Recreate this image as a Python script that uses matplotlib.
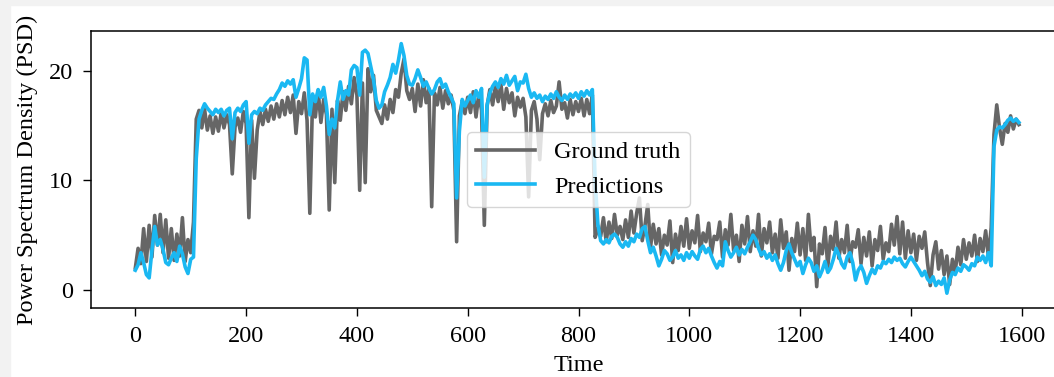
import matplotlib
matplotlib.use("Agg")
import matplotlib.pyplot as plt
from matplotlib.patches import Rectangle
import numpy as np

plt.rcParams["font.family"] = ["Liberation Serif", "DejaVu Serif"]
plt.rcParams["font.size"] = 17.5

# Sample index (every 5th step of the test window)
time = np.arange(0, 1600, 5)

ground_truth = [
    2.0, 3.8, 2.4, 5.6, 2.6, 5.9, 3.0, 6.8, 4.1, 6.9, 3.4, 6.4, 2.9, 5.6, 2.7, 5.1, 3.1, 6.6, 2.6, 4.6,
    3.4, 6.2, 15.6, 16.4, 14.8, 16.5, 14.6, 15.9, 14.3, 15.8, 14.5, 16.2, 14.8, 16.0, 15.1, 10.6, 14.9, 15.7, 14.4, 16.3,
    15.2, 6.6, 15.5, 10.2, 14.6, 16.3, 15.1, 16.5, 15.4, 16.8, 15.6, 17.0, 15.8, 17.3, 16.0, 17.6, 16.2, 17.8, 14.3, 17.2,
    16.1, 18.0, 15.5, 7.0, 17.6, 15.8, 18.2, 15.3, 17.4, 16.0, 7.3, 16.5, 9.8, 17.3, 15.5, 18.1, 16.4, 18.6, 17.0, 19.4,
    17.8, 9.1, 18.9, 9.8, 20.2, 18.1, 19.6, 16.4, 15.8, 15.2, 16.9, 15.6, 17.4, 16.2, 18.3, 17.6, 19.8, 21.1, 18.2, 17.4,
    18.4, 16.3, 18.8, 16.8, 19.2, 17.1, 18.4, 7.6, 18.0, 16.9, 18.5, 16.6, 18.2, 17.0, 17.8, 16.4, 4.4, 15.9, 17.2, 16.1,
    17.6, 16.2, 18.1, 15.8, 17.9, 16.4, 5.9, 16.8, 18.3, 16.9, 18.6, 17.2, 18.8, 16.5, 18.4, 17.1, 18.0, 15.9, 17.6, 16.7,
    17.5, 15.8, 8.5, 16.4, 17.2, 15.6, 11.9, 16.1, 17.0, 15.9, 17.3, 16.2, 16.8, 19.0, 16.5, 17.1, 15.7, 17.4, 16.0, 17.2,
    16.3, 17.5, 15.9, 17.4, 16.1, 17.8, 4.8, 5.6, 4.9, 6.6, 4.4, 6.2, 4.7, 6.9, 5.0, 5.8, 4.6, 6.4, 4.8, 7.2,
    5.2, 7.0, 8.4, 4.5, 5.9, 7.8, 3.9, 6.0, 4.2, 5.6, 3.2, 5.0, 4.1, 6.3, 2.5, 5.1, 3.6, 5.8, 4.0, 6.5,
    3.8, 5.4, 4.3, 6.8, 3.5, 5.2, 4.4, 6.1, 3.3, 4.9, 4.6, 6.2, 3.0, 5.5, 4.1, 6.9, 3.6, 5.0, 2.6, 5.9,
    4.2, 6.7, 3.5, 5.4, 4.0, 6.9, 3.1, 5.6, 4.3, 6.2, 3.4, 5.1, 2.9, 6.4, 3.8, 5.3, 1.8, 4.7, 3.5, 6.1,
    3.2, 5.6, 2.7, 6.9, 3.6, 4.8, 0.3, 4.2, 3.3, 5.7, 2.1, 4.9, 3.7, 6.2, 2.9, 4.6, 3.4, 5.9, 2.6, 4.4,
    3.9, 5.5, 2.4, 4.8, 3.1, 5.3, 2.2, 4.6, 3.6, 5.8, 2.8, 4.3, 3.5, 6.0, 4.1, 6.7, 3.3, 6.2, 2.9, 5.4,
    3.4, 5.1, 2.7, 4.9, 3.8, 5.3, 2.5, 0.4, 3.2, 4.4, 1.9, 3.6, 1.4, 3.1, 0.5, 2.8, 1.6, 3.9, 2.3, 4.6,
    2.8, 4.3, 3.1, 5.0, 2.6, 4.7, 3.5, 5.4, 3.0, 5.7, 14.2, 16.9, 14.8, 13.3, 15.2, 14.4, 15.9, 14.7, 15.6, 15.1,
]

predictions = [
    1.8, 2.3, 3.4, 2.5, 1.4, 1.1, 3.6, 5.8, 4.1, 4.6, 3.7, 2.5, 2.3, 2.9, 3.4, 2.6, 4.0, 3.3, 2.1, 1.5,
    2.8, 3.0, 12.0, 15.6, 16.4, 17.0, 16.6, 16.3, 16.0, 16.5, 16.2, 16.5, 15.9, 16.4, 16.6, 13.8, 16.2, 16.6, 16.3, 16.9,
    17.2, 13.4, 16.0, 16.3, 16.1, 16.6, 16.4, 16.9, 17.2, 17.5, 17.4, 17.9, 18.3, 18.9, 18.6, 19.1, 18.8, 19.2, 17.6, 18.4,
    19.3, 21.2, 21.0, 16.0, 17.9, 17.2, 18.3, 17.6, 18.5, 16.8, 14.2, 15.6, 14.8, 17.3, 19.0, 17.4, 18.2, 17.8, 20.1, 20.5,
    20.3, 17.8, 21.7, 21.9, 21.6, 20.4, 19.2, 17.3, 16.6, 16.9, 18.1, 18.7, 19.4, 20.6, 19.8, 21.0, 22.5, 21.4, 19.6, 18.8,
    18.7, 19.3, 20.1, 19.4, 18.6, 19.0, 18.4, 17.9, 18.3, 19.0, 19.3, 18.5, 18.8, 18.1, 17.6, 17.0, 8.4, 14.5, 17.4, 16.8,
    17.3, 17.8, 17.1, 18.2, 17.6, 18.4, 10.3, 16.9, 18.0, 18.6, 19.0, 18.5, 19.3, 18.8, 19.6, 18.7, 19.1, 19.5, 18.2, 19.0,
    18.9, 19.7, 18.4, 17.6, 18.0, 17.5, 17.8, 17.2, 17.7, 17.4, 17.9, 17.5, 18.1, 17.6, 17.3, 17.8, 17.4, 17.9, 17.6, 18.0,
    17.5, 18.1, 17.7, 18.2, 17.8, 18.3, 10.0, 6.0, 4.5, 4.2, 4.6, 4.3, 4.9, 5.1, 4.8, 4.2, 3.9, 4.4, 4.0, 4.7,
    4.4, 5.1, 4.8, 5.6, 5.8, 4.5, 3.4, 3.9, 3.1, 2.2, 2.8, 3.6, 3.3, 2.7, 3.0, 3.6, 2.9, 3.2, 2.7, 3.4,
    2.9, 3.5, 3.1, 2.8, 3.7, 4.0, 3.4, 3.8, 3.1, 2.5, 2.0, 2.6, 2.2, 4.4, 3.6, 3.0, 3.4, 3.9, 3.2, 3.7,
    3.3, 3.9, 4.4, 5.0, 4.6, 3.8, 3.2, 3.5, 2.9, 3.3, 2.7, 3.2, 2.4, 1.8, 2.5, 3.6, 4.2, 3.4, 2.8, 2.2,
    2.6, 1.5, 2.3, 2.9, 2.5, 1.7, 2.2, 1.2, 1.8, 2.6, 1.6, 2.0, 2.8, 3.8, 3.2, 2.4, 2.0, 3.0, 3.4, 2.5,
    0.9, 1.8, 2.2, 1.6, 0.6, 1.3, 1.9, 1.5, 2.2, 2.0, 2.6, 2.4, 2.8, 2.5, 3.0, 2.7, 2.9, 2.4, 2.1, 2.6,
    3.0, 2.6, 2.2, 1.8, 1.3, 1.7, 1.0, 0.7, 1.2, 0.4, 0.8, 0.5, 1.1, -0.3, 0.9, 1.6, 1.4, 2.0, 1.7, 2.3,
    2.1, 1.8, 2.4, 2.2, 3.0, 2.7, 3.1, 2.5, 3.4, 2.2, 13.1, 14.6, 14.9, 14.8, 15.1, 15.5, 15.7, 15.4, 15.6, 15.3,
]

fig = plt.figure(figsize=(10.54, 3.77), dpi=100)
fig.patch.set_facecolor("white")
# light grey page margin on the left and top
fig.patches.append(Rectangle((0, 0), 10 / 1054, 1, transform=fig.transFigure,
                             color="#f2f2f2", zorder=-10))
fig.patches.append(Rectangle((0, 1 - 5 / 377), 1, 5 / 377, transform=fig.transFigure,
                             color="#f2f2f2", zorder=-10))

ax = fig.add_axes([91 / 1054, 1 - 308 / 377, 975 / 1054, 277 / 377])
ax.plot(time, ground_truth, color="#666666", linewidth=2.6, label="Ground truth")
ax.plot(time, predictions, color="#1ab8f2", linewidth=2.6, label="Predictions")

ax.set_xlim(-80, 1680)
ax.set_ylim(-1.65, 23.65)
ax.set_xticks([0, 200, 400, 600, 800, 1000, 1200, 1400, 1600])
ax.set_yticks([0, 10, 20])
ax.tick_params(length=6, width=1.0, pad=7, labelsize=17.5)
for s in ax.spines.values():
    s.set_linewidth(1.1)

ax.set_xlabel("Time", fontsize=17.5, labelpad=6)
ax.set_ylabel("Power Spectrum Density (PSD)", fontsize=17.5, labelpad=8)
ax.legend(loc="center", fontsize=17.5, handlelength=2.4)

fig.savefig("out.png", dpi=100)
